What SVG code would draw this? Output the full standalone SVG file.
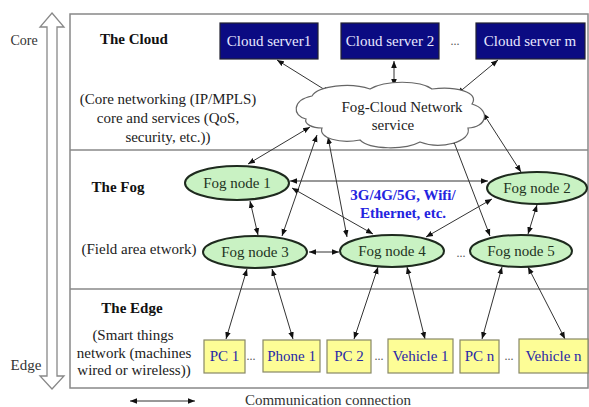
<svg xmlns="http://www.w3.org/2000/svg" width="589" height="407" viewBox="0 0 589 407">
<style>
text{font-family:"Liberation Serif","Times New Roman",serif;font-size:15px;text-anchor:middle;fill:#222}
.b{font-weight:bold;fill:#111}
.srv rect{fill:#0b0b82;stroke:#223;stroke-width:1.2}
.srv text{fill:#e8e8ff}
.fog ellipse{fill:#c9f2c3;stroke:#1e2a1e;stroke-width:2}
.fog text{fill:#223322}
.dev rect{fill:#fdfd96;stroke:#888866;stroke-width:1.2}
.dev text{fill:#2828a8}
.c line{stroke:#333;stroke-width:1;marker-start:url(#ah);marker-end:url(#ah)}
.frame{fill:#fff;stroke:#888;stroke-width:1.5}
.div{stroke:#888;stroke-width:1.5}
.dots{font-size:12px;fill:#555}
</style>
<defs>
<marker id="ah" viewBox="0 0 10 10" refX="10" refY="5" markerWidth="7" markerHeight="7" markerUnits="userSpaceOnUse" orient="auto-start-reverse"><path d="M0,1 L10,5 L0,9 z" fill="#111"/></marker>
</defs>
<rect width="589" height="407" fill="#fff"/>
<g id="layers">
<rect class="frame" x="70" y="14" width="518" height="374"/>
<line class="div" x1="70" y1="150" x2="588" y2="150"/>
<line class="div" x1="70" y1="289" x2="588" y2="289"/>
</g>
<g id="core-edge-axis">
<polygon points="52,13 64,27 57,27 57,376 64,376 52,389 40,376 47,376 47,27 40,27" fill="#fff" stroke="#888" stroke-width="1.3"/>
<text x="24" y="45" style="font-size:14px;fill:#333">Core</text>
<text x="26" y="370" style="fill:#333">Edge</text>
</g>
<g id="labels">
<text class="b" x="134" y="44">The Cloud</text>
<text x="168" y="104">(Core networking (IP/MPLS)</text>
<text x="168" y="123">core and services (QoS,</text>
<text x="168" y="142">security, etc.))</text>
<text class="b" x="118" y="192">The Fog</text>
<text x="139" y="254">(Field area etwork)</text>
<text class="b" x="132" y="313">The Edge</text>
<text x="133" y="340">(Smart things</text>
<text x="134" y="358">network (machines</text>
<text x="134" y="375">wired or wireless))</text>
<text class="b" x="403" y="200" style="fill:#2424e0">3G/4G/5G, Wifi/</text>
<text class="b" x="403" y="218" style="fill:#2424e0">Ethernet, etc.</text>
<text class="dots" x="455" y="45">...</text>
<text class="dots" x="461" y="257">...</text>
<text class="dots" x="251" y="360">...</text>
<text class="dots" x="379" y="360">...</text>
<text class="dots" x="509" y="360">...</text>
</g>
<g id="connectors" class="c">
<line x1="277" y1="60" x2="330" y2="93"/>
<line x1="394" y1="61" x2="394" y2="86"/>
<line x1="498" y1="60" x2="457" y2="94"/>
<line x1="248" y1="164" x2="310" y2="127"/>
<line x1="282" y1="236" x2="317" y2="135"/>
<line x1="328" y1="137" x2="347" y2="237"/>
<line x1="452" y1="137" x2="490" y2="236"/>
<line x1="483" y1="113" x2="521" y2="172"/>
<line x1="290" y1="181" x2="488" y2="181"/>
<line x1="292" y1="188" x2="373" y2="234"/>
<line x1="250" y1="201" x2="258" y2="235"/>
<line x1="309" y1="252" x2="339" y2="252"/>
<line x1="426" y1="237" x2="492" y2="199"/>
<line x1="537" y1="205" x2="528" y2="234"/>
<line x1="247" y1="269" x2="226" y2="339"/>
<line x1="272" y1="269" x2="293" y2="339"/>
<line x1="378" y1="267" x2="354" y2="339"/>
<line x1="407" y1="267" x2="425" y2="339"/>
<line x1="502" y1="267" x2="482" y2="339"/>
<line x1="528" y1="267" x2="565" y2="339"/>
<line x1="130" y1="401" x2="195" y2="401"/>
</g>
<g id="fog-cloud-service">
<path d="M306,119 C292,116 292,100 312,96 C318,86 350,82 370,89 C385,80 420,80 432,89 C455,86 480,92 472,104 C492,110 486,128 468,128 C472,142 440,150 420,142 C405,150 370,150 360,140 C340,144 318,138 322,128 C312,128 304,124 306,119 Z" fill="#fff" stroke="#666" stroke-width="1.2"/>
<text x="402" y="112">Fog-Cloud Network</text>
<text x="393" y="130">service</text>
</g>
<g id="cloud-server-1" class="srv"><rect x="220" y="23" width="98" height="36"/><text x="269" y="46">Cloud server1</text></g>
<g id="cloud-server-2" class="srv"><rect x="341" y="23" width="98" height="36"/><text x="390" y="46">Cloud server 2</text></g>
<g id="cloud-server-m" class="srv"><rect x="476" y="23" width="109" height="36"/><text x="530" y="46">Cloud server m</text></g>
<g id="fog-node-1" class="fog"><ellipse cx="237" cy="183" rx="52" ry="17"/><text x="237" y="188">Fog node 1</text></g>
<g id="fog-node-2" class="fog"><ellipse cx="537" cy="188" rx="50" ry="16"/><text x="537" y="193">Fog node 2</text></g>
<g id="fog-node-3" class="fog"><ellipse cx="255" cy="252" rx="52" ry="16"/><text x="255" y="257">Fog node 3</text></g>
<g id="fog-node-4" class="fog"><ellipse cx="392" cy="251" rx="52" ry="16"/><text x="392" y="256">Fog node 4</text></g>
<g id="fog-node-5" class="fog"><ellipse cx="521" cy="251" rx="51" ry="16"/><text x="521" y="256">Fog node 5</text></g>
<g id="pc-1" class="dev"><rect x="204" y="340" width="41" height="33"/><text x="224.5" y="361">PC 1</text></g>
<g id="phone-1" class="dev"><rect x="263" y="340" width="57" height="32"/><text x="291.5" y="361">Phone 1</text></g>
<g id="pc-2" class="dev"><rect x="327" y="340" width="44" height="33"/><text x="349" y="361">PC 2</text></g>
<g id="vehicle-1" class="dev"><rect x="388" y="339" width="65" height="34"/><text x="420.5" y="361">Vehicle 1</text></g>
<g id="pc-n" class="dev"><rect x="460" y="340" width="39" height="33"/><text x="479.5" y="361">PC n</text></g>
<g id="vehicle-n" class="dev"><rect x="519" y="339" width="69" height="34"/><text x="553.5" y="361">Vehicle n</text></g>
<g id="legend"><text x="328" y="405" style="fill:#333">Communication connection</text></g>
</svg>
